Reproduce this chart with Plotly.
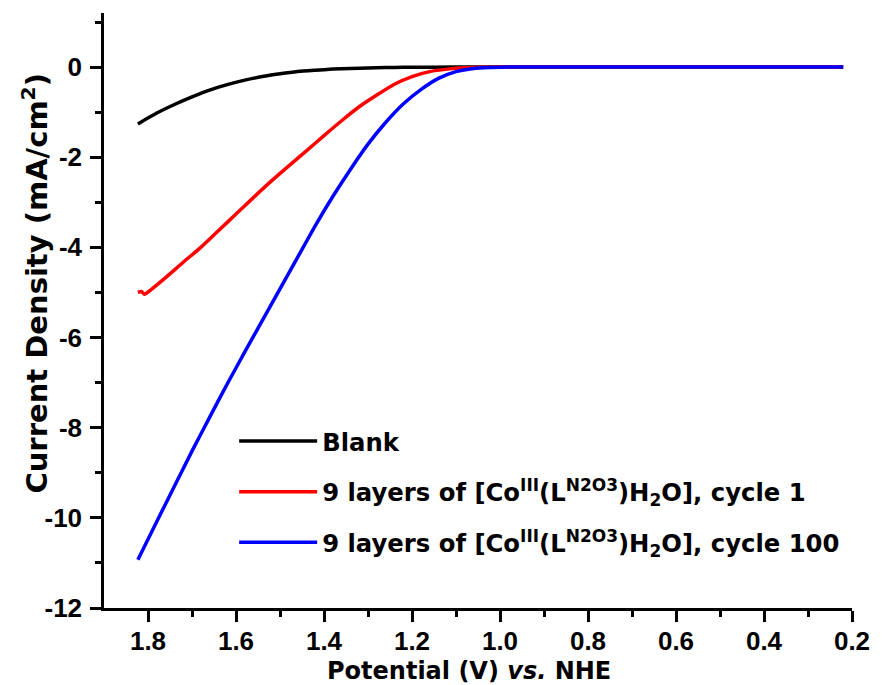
import plotly.graph_objects as go

# Data
blank_x = [1.823, 1.78, 1.74, 1.70, 1.66, 1.62, 1.58, 1.54, 1.50, 1.46, 1.42, 1.38, 1.34, 1.30,
           1.26, 1.22, 1.10, 0.90, 0.60, 0.40, 0.22]
blank_y = [-1.26, -1.02, -0.83, -0.66, -0.51, -0.39, -0.29, -0.21, -0.15, -0.10, -0.07, -0.045,
           -0.03, -0.02, -0.01, -0.005, 0, 0, 0, 0, 0]

c1_x = [1.823, 1.815, 1.808, 1.80, 1.76, 1.72, 1.68, 1.64, 1.60, 1.56, 1.52, 1.48, 1.44, 1.40,
        1.36, 1.32, 1.28, 1.24, 1.20, 1.16, 1.12, 1.08, 1.04, 1.00, 0.80, 0.60, 0.40, 0.22]
c1_y = [-5.00, -4.98, -5.04, -4.99, -4.67, -4.33, -4.00, -3.63, -3.26, -2.89, -2.53, -2.19, -1.86,
        -1.52, -1.19, -0.88, -0.62, -0.38, -0.21, -0.10, -0.045, -0.015, -0.005, 0, 0, 0, 0, 0]

c100_x = [1.823, 1.78, 1.74, 1.70, 1.66, 1.62, 1.58, 1.54, 1.50, 1.46, 1.42, 1.38, 1.34, 1.30,
          1.26, 1.22, 1.18, 1.14, 1.10, 1.06, 1.02, 0.98, 0.80, 0.60, 0.40, 0.22]
c100_y = [-10.93, -10.08, -9.30, -8.52, -7.77, -7.03, -6.32, -5.62, -4.92, -4.22, -3.52, -2.87,
          -2.27, -1.71, -1.23, -0.82, -0.50, -0.25, -0.10, -0.03, -0.01, 0, 0, 0, 0, 0]

names = ["Blank",
         "9 layers of [Co<sup>III</sup>(L<sup>N2O3</sup>)H<sub>2</sub>O], cycle 1",
         "9 layers of [Co<sup>III</sup>(L<sup>N2O3</sup>)H<sub>2</sub>O], cycle 100"]
colors = ["#000000", "#ff0000", "#0000ff"]

x_ticks = [1.8, 1.6, 1.4, 1.2, 1.0, 0.8, 0.6, 0.4, 0.2]
x_minor = [1.7, 1.5, 1.3, 1.1, 0.9, 0.7, 0.5, 0.3]
y_ticks = [0, -2, -4, -6, -8, -10, -12]
y_minor = [1, -1, -3, -5, -7, -9, -11]

x_title = "Potential (V) <i>vs.</i> NHE"
y_title = "Current Density (mA/cm<sup>2</sup>)"

TICK_FONT = "Liberation Sans, Arial, sans-serif"
TITLE_FONT = "DejaVu Sans, Liberation Sans, sans-serif"

fig = go.Figure()
for i, (xs, ys, nm, col) in enumerate([(blank_x, blank_y, names[0], colors[0]),
                                       (c1_x, c1_y, names[1], colors[1]),
                                       (c100_x, c100_y, names[2], colors[2])]):
    fig.add_trace(go.Scatter(x=xs, y=ys, mode="lines", name=nm, legendgroup="g%d" % i,
                             line=dict(color=col, width=3.5, shape="spline", smoothing=0.6)))

axis_common = dict(
    showline=True, linecolor="black", linewidth=2.5, mirror=False,
    ticks="outside", ticklen=11, tickwidth=2.5, tickcolor="black",
    showgrid=False, zeroline=False,
    tickfont=dict(family=TICK_FONT, size=26, color="black", weight="bold"),
)

fig.update_layout(
    width=882, height=685,
    margin=dict(l=104, r=24, t=13, b=77),
    paper_bgcolor="white", plot_bgcolor="white",
    font=dict(family=TICK_FONT, color="black"),
    xaxis=dict(range=[1.9, 0.2], tickvals=x_ticks,
               ticktext=["<b>%.1f</b>" % v for v in x_ticks],
               ticklabelstandoff=-3,
               minor=dict(tickvals=x_minor, ticklen=6, tickwidth=2.5,
                          tickcolor="black", ticks="outside"),
               **axis_common),
    yaxis=dict(range=[-12, 1.2], tickvals=y_ticks,
               ticktext=["<b>%d</b>" % v for v in y_ticks],
               ticklabelstandoff=3,
               minor=dict(tickvals=y_minor, ticklen=6, tickwidth=2.5,
                          tickcolor="black", ticks="outside"),
               **axis_common),
    legend=dict(x=0.174, y=0.318, xanchor="left", yanchor="top",
                bgcolor="rgba(0,0,0,0)", tracegroupgap=16, itemwidth=78,
                font=dict(family=TITLE_FONT, size=24.3, color="black", weight="bold")),
    showlegend=True,
    annotations=[
        dict(text="<b>" + x_title + "</b>", xref="paper", yref="paper",
             x=(472 - 104) / 754, y=-(671 - 608) / 595, xanchor="center", yanchor="middle",
             showarrow=False, font=dict(family=TITLE_FONT, size=24, color="black")),
        dict(text="<b>" + y_title + "</b>", xref="paper", yref="paper", textangle=-90,
             x=-(104 - 34) / 754, y=(608 - 283) / 595, xanchor="center", yanchor="middle",
             showarrow=False, font=dict(family=TITLE_FONT, size=29, color="black")),
    ],
)

fig.write_html("out.html")
